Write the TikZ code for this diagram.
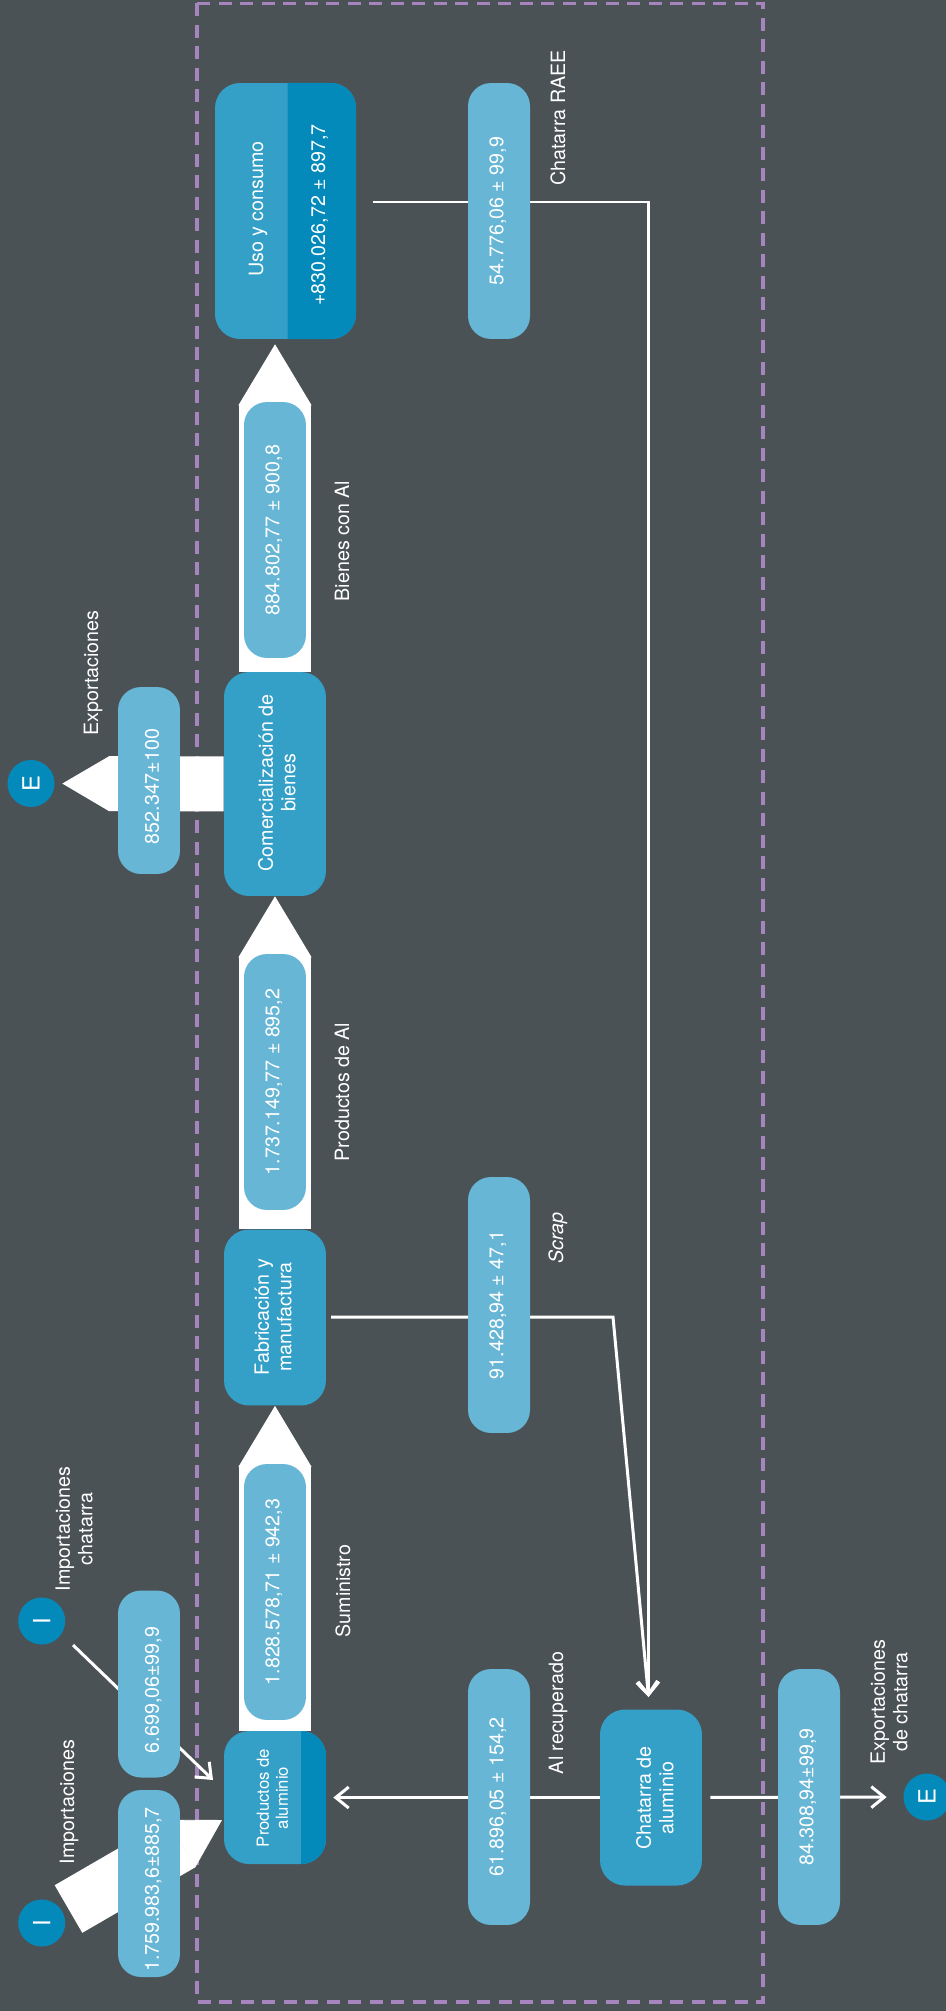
\documentclass[tikz,border=0pt]{standalone}
\usepackage{fontspec}
\setmainfont{TeX Gyre Heros}
\usepackage{tikz}
\usetikzlibrary{calc}
\usetikzlibrary{arrows.meta}
\usetikzlibrary{backgrounds}
\definecolor{slatebg}{HTML}{4B5256}
\definecolor{pillblue}{HTML}{68B6D5}
\definecolor{boxblue}{HTML}{34A0C8}
\definecolor{bandblue}{HTML}{038ABB}
\definecolor{dashpurple}{HTML}{A684BD}
\tikzset{
    pillbox/.style={fill=pillblue, text=white, rotate=90, rounded corners=.46cm, minimum height=1.24cm, inner sep=0pt,
        font=\fontsize{11.2}{13}\selectfont, text height=8pt, text depth=2.9pt},
    outerpill/.style={text height=11.3pt, text depth=0pt, execute at end node=\hspace{.24cm}},
    stagebox/.style={fill=boxblue, rotate=90, rounded corners=.5cm, inner sep=0pt},
    flowlabl/.style={text=white, rotate=90, inner sep=0pt, anchor=base, font=\fontsize{11.2}{12.8}\selectfont},
    blocklabl/.style={text=white, rotate=90, inner sep=0pt, align=center, font=\fontsize{11.2}{12.8}\selectfont},
    smalllabl/.style={blocklabl, font=\fontsize{9.5}{10.8}\selectfont},
    borderdot/.style={circle, fill=bandblue, text=white, rotate=90, minimum size=.94cm, inner sep=0pt, font=\fontsize{13.5}{14}\selectfont},
    flowline/.style={draw=white, line width=1.7pt, -{Straight Barb[length=.26cm,width=.42cm]}},
    widearrow/.style={draw=white, line width=1.46cm, -{Triangle[length=1.22cm,width=1.46cm,line width=.5pt]}},
    narrowarrow/.style={draw=white, line width=1.1cm, -{Triangle[length=.94cm,width=1.1cm,line width=.5pt]}},
}
\newcommand{\pillnode}[5]{\node[pillbox, minimum width=#4 cm] (#1) at (#2,#3) {#5};}
\newcommand{\outerpillnode}[5]{\node[pillbox, outerpill, minimum width=#4 cm] (#1) at (#2,#3) {#5};}
\newcommand{\stagenode}[5]{\node[stagebox, minimum width=#4 cm, minimum height=#5 cm] (#1) at (#2,#3) {};}
\newcommand{\flownote}[4]{\node[flowlabl] (#1) at (#2,#3) {#4};}
\newcommand{\blocknote}[4]{\node[blocklabl] (#1) at (#2,#3) {#4};}

\begin{document}
\begin{tikzpicture}[x=.02cm,y=-.02cm]
        \useasboundingbox (0,0) rectangle (946,2011);

        % stages
        \stagenode{productos}{275}{1797.5}{2.66}{2.04}
        \stagenode{fabrica}{275}{1317.5}{3.52}{2.04}
        \stagenode{comercio}{275}{784}{4.48}{2.04}
        \stagenode{uso}{285.5}{211}{5.12}{2.82}
        \stagenode{chatarra}{651}{1797.5}{3.52}{2.04}
        % dark bands
        \fill[bandblue, rounded corners=.5cm] (301,1731) -- (326,1731) -- (326,1864) [sharp corners] -- (301,1864) -- cycle;
        \fill[bandblue, rounded corners=.5cm] (287.5,83) -- (356,83) -- (356,339) [sharp corners] -- (287.5,339) -- cycle;

        % stage text
        \node[smalllabl] (productostxt) at (272.5,1798) {Productos de\\aluminio};
        \blocknote{fabricatxt}{273}{1317}{Fabricación y\\manufactura}
        \blocknote{comerciotxt}{277}{783}{Comercialización de\\bienes}
        \blocknote{chatarratxt}{655}{1798}{Chatarra de\\aluminio}
        \flownote{usotxt}{263}{209}{Uso y consumo}
        \flownote{usoval}{325}{215}{+830.026,72 ± 897,7}

        % inner pills
        \pillnode{suministro}{275}{1592}{5.12}{1.828.578,71 ± 942,3}
        \pillnode{prodal}{275}{1082}{5.12}{1.737.149,77 ± 895,2}
        \pillnode{bienes}{275}{530}{5.12}{884.802,77 ± 900,8}
        \pillnode{raee}{499}{211}{5.12}{54.776,06 ± 99,9}
        \pillnode{scrap}{499}{1305}{5.12}{91.428,94 ± 47,1}
        \pillnode{recuperado}{499}{1797}{5.12}{61.896,05 ± 154,2}
        \pillnode{expchat}{809}{1797}{5.12}{84.308,94±99,9}
        % outer pills
        \outerpillnode{impchat}{149}{1684}{3.74}{6.699,06±99,9}
        \outerpillnode{impal}{149}{1883.5}{3.74}{1.759.983,6±885,7}
        \outerpillnode{expbien}{149}{780.5}{3.74}{852.347±100}

        % in and out
        \node[borderdot] (inchat) at (41.7,1621) {I};
        \node[borderdot] (inal) at (41.7,1923) {I};
        \node[borderdot] (outbien) at (31,783.5) {E};
        \node[borderdot] (outchat) at (927,1797) {E};

        % labels
        \flownote{suministrolabl}{350}{1591}{Suministro}
        \flownote{prodlabl}{349}{1092}{Productos de Al}
        \flownote{bieneslabl}{349}{541}{Bienes con Al}
        \flownote{raeelabl}{565}{118}{Chatarra RAEE}
        \flownote{scraplabl}{563}{1238}{\textit{Scrap}}
        \flownote{recuplabl}{563}{1713}{Al recuperado}
        \flownote{implabl}{74}{1802}{Importaciones}
        \flownote{explabl}{98}{673}{Exportaciones}
        \blocknote{impchatlabl}{74}{1529}{Importaciones\\chatarra}
        \blocknote{expchatlabl}{889}{1702}{Exportaciones\\de chatarra}

        % free ends
        \coordinate (usoout) at (372.5,202);
        \coordinate (usobend) at (648.5,202);
        \coordinate (fabricaout) at (331,1317);
        \coordinate (fabricabend) at (613,1317);
        \coordinate (chatarrain) at (648.5,1697);
        \coordinate (inchatout) at (73,1645);
        \coordinate (inchatin) at (213,1780);
        \coordinate (inalout) at (68.5,1909);
        \coordinate (inalin) at (222,1820);

        \begin{scope}[on background layer]
            \fill[slatebg] (0,0) rectangle (946,2011);
            \draw[dashpurple, line width=1.9pt, dash pattern=on .26cm off .17cm] (197,3.5) rectangle (763,2002);
            % main flow
            \draw[widearrow] (productos) -- (fabrica);
            \draw[widearrow] (fabrica) -- (comercio);
            \draw[widearrow, shorten >=.1cm] (comercio) -- (comercio |- uso.west);
            \draw[narrowarrow, shorten >=.15cm] (comercio) -- (outbien);
            \draw[narrowarrow] (inalout) -- (inalin);
            % scrap lines
            \draw[flowline] (usoout) -- (usobend) -- (chatarrain);
            \draw[flowline] (fabricaout) -- (fabricabend) -- (chatarrain);
            \draw[flowline, shorten >=.14cm] (chatarra) -- (productos);
            \draw[flowline, shorten <=.16cm, shorten >=.33cm] (chatarra) -- (outchat);
            \draw[flowline] (inchatout) -- (inchatin);
        \end{scope}
\end{tikzpicture}
\end{document}
